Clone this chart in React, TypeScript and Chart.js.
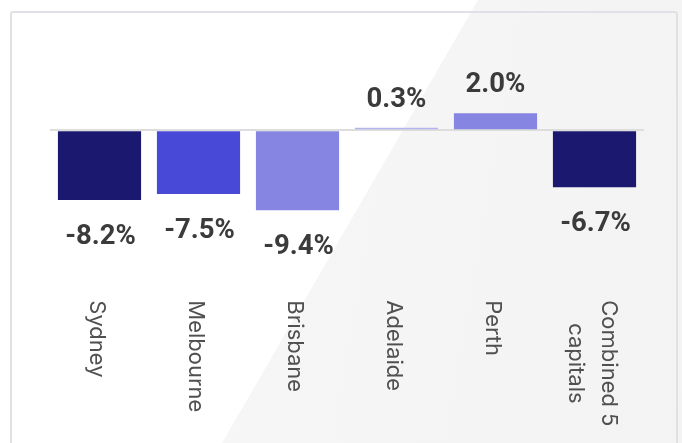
import { useEffect, useRef } from "react";
import { Chart, registerables } from "chart.js";

Chart.register(...registerables);

const categories: (string | string[])[] = [
  "Sydney",
  "Melbourne",
  "Brisbane",
  "Adelaide",
  "Perth",
  ["Combined 5", "capitals"],
];
const changeValues = [-8.2, -7.5, -9.4, 0.3, 2.0, -6.7];
const barColors = ["#1b196f", "#4849d6", "#8686e2", "#b4b4f0", "#8686e2", "#1b196f"];
const yMin = -10;
const yMax = 4;
const yStep = 2;

const valueLabelPlugin = {
  id: "valueLabels",
  afterDatasetsDraw(chart: any) {
    const { ctx } = chart;
    const meta = chart.getDatasetMeta(0);
    ctx.save();
    ctx.font = "bold 27.5px Roboto";
    ctx.fillStyle = "#3b3b3b";
    ctx.textAlign = "center";
    ctx.textBaseline = "alphabetic";
    meta.data.forEach((bar: any, i: number) => {
      const v = changeValues[i];
      const { x, y } = bar.getProps(["x", "y"], true);
      const text = v.toFixed(1) + "%";
      if (v >= 0) ctx.fillText(text, x, y - 21);
      else ctx.fillText(text, x + 1, y + 44);
    });
    ctx.restore();
  },
};

const categoryLabelPlugin = {
  id: "categoryLabels",
  afterDraw(chart: any) {
    const { ctx, chartArea } = chart;
    const xScale = chart.scales.x;
    ctx.save();
    ctx.font = "400 22px Inter";
    ctx.fillStyle = "#505050";
    ctx.textAlign = "left";
    ctx.textBaseline = "alphabetic";
    const capH = 16;
    const lineGap = 33;
    const top = chartArea.bottom + 85;
    categories.forEach((label, i) => {
      const lines = Array.isArray(label) ? label : [label];
      const widths = lines.map((l) => ctx.measureText(l).width);
      const maxW = Math.max(...widths);
      const cx = xScale.getPixelForValue(i) - 1.5;
      lines.forEach((line, j) => {
        const lx = cx + ((lines.length - 1) / 2 - j) * lineGap;
        const ly = top + (maxW - widths[j]) / 2;
        ctx.save();
        ctx.translate(lx, ly);
        ctx.rotate(Math.PI / 2);
        ctx.fillText(line, 0, capH / 2);
        ctx.restore();
      });
    });
    ctx.restore();
  },
};

export default function App() {
  const canvasRef = useRef<HTMLCanvasElement | null>(null);

  useEffect(() => {
    if (!canvasRef.current) return;
    const chart = new Chart(canvasRef.current, {
      type: "bar",
      data: {
        labels: categories,
        datasets: [
          {
            data: changeValues,
            backgroundColor: barColors,
            borderWidth: 0,
            barPercentage: 1,
            categoryPercentage: 0.84,
          },
        ],
      },
      options: {
        responsive: false,
        animation: false,
        devicePixelRatio: 1,
        layout: { padding: { left: 50, right: 38, top: 96.3, bottom: 227.7 } },
        plugins: {
          legend: { display: false },
          tooltip: { enabled: false },
          title: { display: false },
        },
        scales: {
          x: { display: false },
          y: {
            display: true,
            min: yMin,
            max: yMax,
            ticks: { display: false, stepSize: yStep },
            border: { display: false },
            grid: {
              drawTicks: false,
              lineWidth: 2,
              color: (c: any) => (c.tick && c.tick.value === 0 ? "#dddddd" : "rgba(0,0,0,0)"),
            },
          },
        },
      },
      plugins: [valueLabelPlugin, categoryLabelPlugin],
    });
    return () => chart.destroy();
  }, []);

  return (
    <div
      style={{
        position: "fixed",
        left: 0,
        top: 0,
        width: 682,
        height: 443,
        overflow: "hidden",
        background: "#ffffff",
      }}
    >
      <div
        style={{
          position: "absolute",
          inset: 0,
          background: "linear-gradient(100deg, #f8f8f8 0%, #f5f5f5 60%, #f3f3f3 100%)",
          clipPath: "polygon(478px 0px, 682px 0px, 682px 443px, 222px 443px)",
        }}
      />
      <div
        style={{
          position: "absolute",
          left: 10,
          top: 11,
          width: 668,
          height: 480,
          border: "2px solid #e0e0e5",
          borderRadius: 3,
          boxSizing: "border-box",
        }}
      />
      <canvas
        ref={canvasRef}
        width={682}
        height={443}
        style={{ position: "absolute", left: 0, top: 0, width: 682, height: 443 }}
      />
    </div>
  );
}
